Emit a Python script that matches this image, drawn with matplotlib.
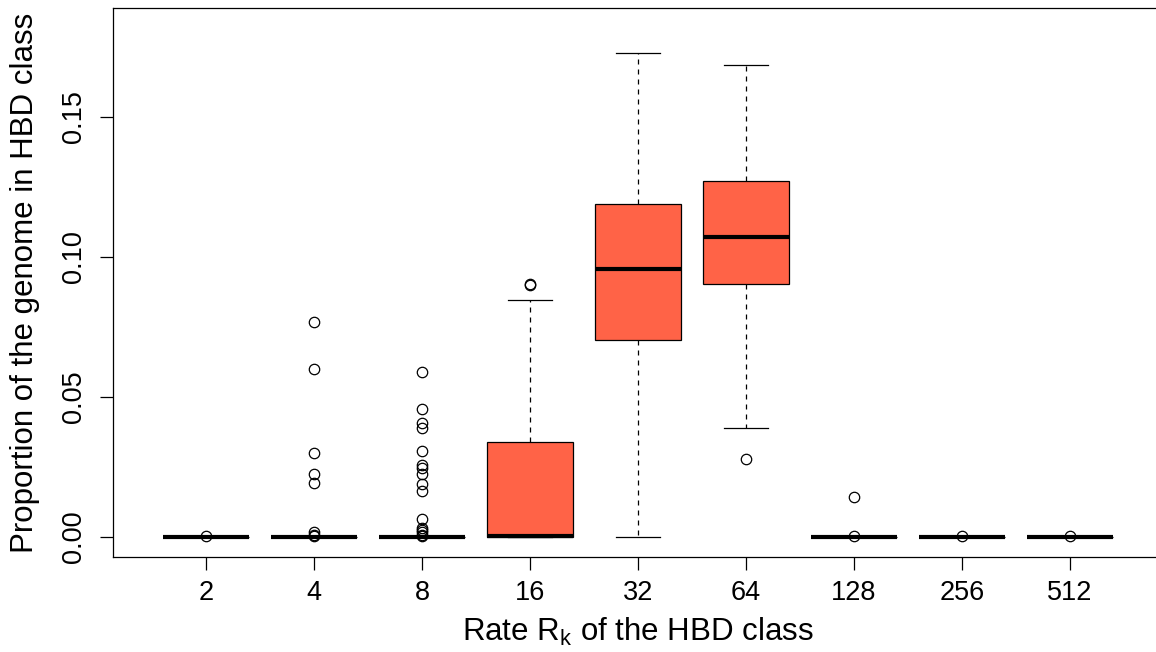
import matplotlib
matplotlib.use("Agg")
import matplotlib.pyplot as plt

plt.rcParams['font.family'] = ['Liberation Sans', 'DejaVu Sans']

# HBD classes (rates) and box statistics
rates = ["2", "4", "8", "16", "32", "64", "128", "256", "512"]
q1 = [0, 0, 0, 0, 0.0704, 0.0904, 0, 0, 0]
med = [0, 0, 0, 0.0003, 0.0957, 0.1071, 0, 0, 0]
q3 = [0, 0, 0, 0.0339, 0.1189, 0.1271, 0, 0, 0]
whislo = [0, 0, 0, 0, 0, 0.0389, 0, 0, 0]
whishi = [0, 0, 0, 0.0846, 0.1729, 0.1686, 0, 0, 0]
outliers = [
    [0.0002],
    [0.0769, 0.0599, 0.0299, 0.0224, 0.0194, 0.0019, 0.0007, 0.0002],
    [0.0590, 0.0457, 0.0406, 0.0388, 0.0307, 0.0257, 0.0248, 0.0224,
     0.0188, 0.0164, 0.0064, 0.0033, 0.0025, 0.0017, 0.0007, 0.0002],
    [0.0900, 0.0903],
    [],
    [0.0279],
    [0.0142, 0.0002],
    [0.0002],
    [0.0002],
]

stats = []
for i in range(len(rates)):
    stats.append(dict(med=med[i], q1=q1[i], q3=q3[i], whislo=whislo[i],
                      whishi=whishi[i], fliers=outliers[i], label=rates[i]))

fig = plt.figure(figsize=(11.56, 6.52), dpi=100)
ax = fig.add_axes([113 / 1156, 95 / 652, 1050 / 1156, 549 / 652])

ax.bxp(stats, positions=range(1, 10), widths=0.8, patch_artist=True,
       boxprops=dict(facecolor="tomato", edgecolor="black", linewidth=0.9),
       medianprops=dict(color="black", linewidth=3, solid_capstyle="butt"),
       whiskerprops=dict(color="black", linewidth=0.9, linestyle=(0, (4, 4))),
       capprops=dict(color="black", linewidth=0.9),
       capwidths=0.4,
       flierprops=dict(marker="o", markerfacecolor="none", markeredgecolor="black",
                       markersize=7.5, markeredgewidth=0.9))

ax.set_xlim(1 - 93 / 108, 9 + 93 / 108)
ax.set_ylim(-20 / 2800, 529 / 2800)
ax.set_yticks([0, 0.05, 0.10, 0.15])
ax.set_yticklabels(["0.00", "0.05", "0.10", "0.15"], rotation=90, va="center")
ax.set_xticks(range(1, 10))
ax.set_xticklabels(rates)
ax.tick_params(labelsize=19.5, length=9.5, width=0.9)
ax.tick_params(axis="x", pad=7)
ax.tick_params(axis="y", pad=9)
for s in ax.spines.values():
    s.set_linewidth(0.9)

ax.set_xlabel(r"Rate R$_\mathregular{k}$ of the HBD class", fontsize=22.5, labelpad=7)
ax.set_ylabel("Proportion of the genome in HBD class", fontsize=22.5, labelpad=15)

fig.savefig("out.png", dpi=100)
